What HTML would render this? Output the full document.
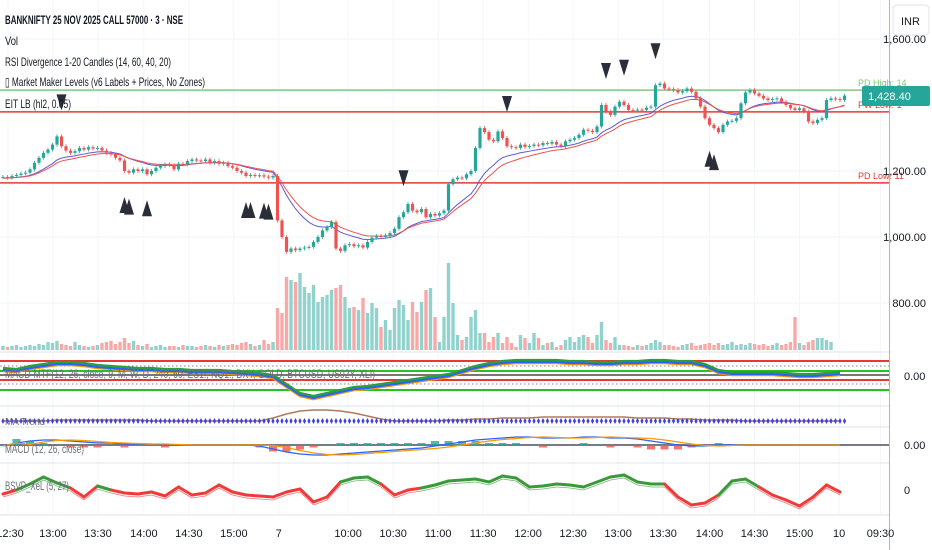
<!DOCTYPE html>
<html><head><meta charset="utf-8"><style>
html,body{margin:0;padding:0;background:#fff;}
#wrap{position:relative;width:932px;height:550px;overflow:hidden;font-family:"Liberation Sans",sans-serif;}
svg{position:absolute;left:0;top:0;}
</style></head><body>
<div id="wrap">
<svg id="chart" width="932" height="550"></svg>
</div>
<script>
// ---- data ----
const closes=[1182,1180,1185,1188,1192,1195,1205,1225,1240,1255,1265,1280,1305,1275,1262,1255,1260,1270,1265,1272,1268,1270,1262,1255,1250,1240,1232,1200,1195,1205,1200,1205,1190,1200,1210,1215,1220,1218,1205,1222,1220,1230,1235,1232,1230,1235,1225,1230,1222,1225,1215,1210,1200,1195,1185,1188,1185,1187,1183,1180,1185,
1050,1000,955,965,960,965,968,970,985,1000,1020,1030,1045,965,958,975,978,972,975,968,985,998,1003,1000,1005,1012,1025,1060,1075,1100,1080,1075,1085,1060,1070,1065,1072,1080,1160,1175,1180,1178,1190,1200,1270,1330,1318,1295,1290,1320,1300,1275,1272,1270,1280,1273,1276,1280,1278,1285,1283,1288,1280,1275,1290,1295,1300,1310,1325,1322,1318,1335,1400,1380,1370,1395,1410,1400,1385,1383,1386,1385,1392,1395,1460,1465,1450,1448,1445,1438,1442,1450,1440,1420,1395,1360,1340,1330,1318,1340,1350,1352,1360,1405,1438,1445,1435,1428,1420,1415,1418,1420,1410,1400,1390,1385,1390,1380,1350,1345,1355,1360,1415,1420,1418,1415,1428.4];
const volumes=[4,3,4,5,3,4,5,4,6,5,8,7,9,6,5,4,8,5,4,3,4,5,7,8,9,6,8,12,7,9,5,4,6,3,4,5,3,4,4,3,5,4,4,3,4,5,4,3,5,4,5,6,5,7,8,6,4,5,10,6,8,
42,37,73,70,68,77,63,57,65,48,53,55,60,62,65,53,42,43,40,52,37,47,42,23,30,20,42,50,45,30,48,38,48,60,62,33,8,33,87,47,15,10,13,33,40,17,17,8,13,17,7,13,7,3,15,12,7,17,12,5,7,8,3,5,10,13,8,13,15,13,7,15,28,10,7,13,5,5,4,3,5,4,5,7,10,8,5,5,4,3,5,6,7,4,5,6,7,5,7,5,6,8,5,6,5,7,6,5,6,4,5,7,5,6,8,33,7,5,8,10,12,12,10,8];
const priceTicks=[1600,1200,1000,800];
const timeLabels=["12:30","13:00","13:30","14:00","14:30","15:00","7","10:00","10:30","11:00","11:30","12:00","12:30","13:00","13:30","14:00","14:30","15:00","10","09:30"];
const timeIndex=[1.1,11.1,21.1,31.3,41.3,51.3,61.3,76.7,86.7,96.7,106.7,116.7,126.7,136.7,146.7,157,167,177,185.8,195];
const levels=[1445,1379,1164];
const levelNames=["PD High: 14","PW Low: 1","PD Low: 11"];
const sellIdx=[13,89,112,134,138,145];
const buyIdx=[27,28,32,54,55,58,59,157,158];
// sub-pane series (index every 3 candles)
const bsvp=[-5,-1,5,12,6,1,-8,3,-1,-4,-5,-3,-7,2,-6,-4,4,-3,-6,-7,-8,-3,0,-13,-8,7,11,12,5,-6,-1,1,4,8,9,10,7,13,11,2,3,5,4,2,7,12,14,7,5,5,-8,-16,-14,-6,8,10,2,-6,-11,-17,-8,4,-3];
const mmLine=[6,5,8,10,12,12,11,9,8,7,6,6,5,5,4,4,4,3,2,1,-1,-10,-19,-22,-19,-16,-13,-12,-10,-8,-6,-4,-2,0,4,8,11,13,14,14,14,14,13,13,12,12,13,13,14,14,13,13,10,4,2,2,2,2,1,0,0,1,2];
const macdLine=[-1,2,4,5,5,4,3,2,2,1,1,1,0,0,0,0,0,0,0,-1,-4,-7,-9,-10,-10,-9,-8,-7,-6,-5,-4,-3,-1,1,3,5,6,7,8,8,7,7,7,8,8,7,7,6,4,2,0,-1,-1,0,0,0,0,0,0,0,0,0,0];
const trendLine=[0,0,0,0,1,1,1,1,1,1,1,0,0,0,0,0,0,0,0,0,3,7,10,11,11,10,8,5,2,0,0,0,0,1,1,2,2,3,3,3,4,4,4,4,4,4,4,3,3,3,2,2,1,1,1,0,0,0,0,0,0,0,0];
// ---- scales ----
const SW=4.5, X0=3;
function xC(i){return X0+SW*i;}
function yP(p){return 171-(p-1200)*66/200;}
function yV(v){return 350-v;}
const svg=document.getElementById('chart');
const NS='http://www.w3.org/2000/svg';
function mk(tag,at,parent){const e=document.createElementNS(NS,tag);for(const k in at)e.setAttribute(k,at[k]);(parent||svg).appendChild(e);return e;}
function txt(s,x,y,at,name){const t=mk('text',Object.assign({x:x,y:y,'font-size':12,fill:'#131722','font-family':'"Liberation Sans",sans-serif'},at));t.textContent=s;return t;}
function ltxt(s,x,y,w,at,name){return txt(s,x,y,Object.assign({textLength:w,lengthAdjust:'spacingAndGlyphs'},at),name);}
// grid
const grid=mk('g',{});


priceTicks.forEach(p=>{const l=mk('line',{x1:0,x2:889,y1:yP(p),y2:yP(p),stroke:'#f0f3fa'},grid);});
timeIndex.forEach(i=>{const l=mk('line',{x1:xC(i),x2:xC(i),y1:0,y2:515,stroke:'#f4f6fb'},grid);});
// pane separators
[352,406,427,463,515].forEach(y=>{const l=mk('line',{x1:0,x2:889,y1:y,y2:y,stroke:'#e0e3eb','stroke-width':1});});
mk('line',{x1:889.5,x2:889.5,y1:0,y2:550,stroke:'#b2b5be'});
// levels
const lvColors=['#81c784','#e53935','#e53935'];
levels.forEach((p,k)=>{const l=mk('line',{x1:0,x2:889,y1:yP(p),y2:yP(p),stroke:lvColors[k],'stroke-width':1.5});
 txt(levelNames[k],858,yP(p)-4,{'font-size':9,fill:lvColors[k]},'level-label');});
// volume
const vg=mk('g',{});


closes.forEach((c,i)=>{const o=i?closes[i-1]:c;const up=c>=o;const h=volumes[i];
 const r=mk('rect',{x:xC(i)-1.7,y:yV(h),width:3.4,height:h,fill:up?'#92d2cc':'#f7a9a7'},vg);});
// EMAs
function ema(n){const a=2/(n+1);let v=1178;return closes.map(c=>v=v+a*(c-v));}
[[ema(14),'#5b5bd6'],[ema(18),'#f05050']].forEach(([s,col])=>{const pl=mk('polyline',{points:s.map((v,i)=>xC(i)+','+yP(v)).join(' '),fill:'none',stroke:col,'stroke-width':1});});
// candles
const cg=mk('g',{});


closes.forEach((c,i)=>{const o=i?closes[i-1]:c;const up=c>=o;const col=up?'#26a69a':'#ef5350';
 const hi=Math.max(o,c)+6,lo=Math.min(o,c)-6;
 const w=mk('line',{x1:xC(i),x2:xC(i),y1:yP(hi),y2:yP(lo),stroke:col,'stroke-width':0.8},cg);
 const y1=yP(Math.max(o,c)),y2=yP(Math.min(o,c));
 const b=mk('rect',{x:xC(i)-1.6,y:y1,width:3.2,height:Math.max(1,y2-y1),fill:col},cg);});
// signals
sellIdx.forEach(i=>{const x=xC(i),y=yP(Math.max(closes[i],i?closes[i-1]:0))-26;const t=mk('polygon',{points:`${x-5},${y-16} ${x+5},${y-16} ${x},${y}`,fill:'#2a2e39'});});
buyIdx.forEach(i=>{const x=xC(i),y=yP(Math.min(closes[i],closes[i-1]))+26;const t=mk('polygon',{points:`${x-5},${y+16} ${x+5},${y+16} ${x},${y}`,fill:'#2a2e39'});});
// sub-pane helpers
const SX=13.5;
function xs(i){return X0+SX*i;}
// pane 2 levels
[[361,'#e53935',0],[366,'#888',1],[371,'#22c322',0],[375,'#777',0],[380,'#e53935',0],[384,'#888',1],[390,'#22c322',0]].forEach(([y,c,d])=>{const l=mk('line',{x1:0,x2:889,y1:y,y2:y,stroke:c,'stroke-width':d?1:2,'stroke-dasharray':d?'1.5,2.5':'none'});});
function yMM(v){return 376-v;}
[[mmLine,'#ff9800',1.2],[mmLine,'#2962ff',0],[mmLine,'#2e9e3c',-2]].forEach(([s,c,off])=>{const pl=mk('polyline',{points:s.map((v,i)=>xs(i)+','+(yMM(v)+off)).join(' '),fill:'none',stroke:c,'stroke-width':2.2});});
// pane 3 trend
function yT(v){return 421-v;}
const tl=mk('polyline',{points:trendLine.map((v,i)=>xs(i)+','+yT(v)).join(' '),fill:'none',stroke:'#b07a5a','stroke-width':1.5});


const dg=mk('g',{});


closes.forEach((c,i)=>{const x=xC(i);const d=mk('path',{d:`M${x},418 L${x+1.6},421 L${x},424 L${x-1.6},421Z`,fill:'#4040e0'},dg);});
// pane 4 MACD
function yM(v){return 445-v;}
mk('line',{x1:0,x2:889,y1:445,y2:445,stroke:'#787b86','stroke-width':2});
macdLine.forEach((v,i)=>{if(i==0)return;const h=(v-macdLine[i-1])*2;const r=mk('rect',{x:xs(i)-4,y:Math.min(445,445-h),width:8,height:Math.abs(h)+0.5,fill:h>=0?'#26a69a':'#ef5350',opacity:0.8});});
[[macdLine,'#2962ff'],[macdLine.map((v,i)=>i>1?(macdLine[i-1]+macdLine[i-2])/2:v),'#ff9800']].forEach(([s,c])=>{const pl=mk('polyline',{points:s.map((v,i)=>xs(i)+','+yM(v)).join(' '),fill:'none',stroke:c,'stroke-width':1.2});});
// pane 5 BSVP
function yB(v){return 489-v;}
bsvp.forEach((v,i)=>{if(i==0)return;const c=(v+bsvp[i-1])/2>=1?'#3a9a3a':'#f03a3a';
 const l=mk('line',{x1:xs(i-1),y1:yB(bsvp[i-1]),x2:xs(i),y2:yB(v),stroke:c,'stroke-width':3,'stroke-linecap':'round'});
 const l2=mk('line',{x1:xs(i-1),y1:yB(bsvp[i-1])+3,x2:xs(i),y2:yB(v)+3,stroke:c,'stroke-width':0.8,opacity:0.7});});
// legends
ltxt('BANKNIFTY 25 NOV 2025 CALL 57000 · 3 · NSE',5,24,178,{'font-size':12,'font-weight':'bold'},'symbol-title');
ltxt('Vol',5,45,13,{},'legend-vol');
ltxt('RSI Divergence 1-20 Candles (14, 60, 40, 20)',5,66,166,{},'legend-rsi-divergence');
ltxt('▯ Market Maker Levels (v6 Labels + Prices, No Zones)',5,86,200,{},'legend-market-maker');
ltxt('EIT  LB (hl2, 0.05)',5,108,66,{},'legend-eit');
ltxt('MACD-MTF(12, 26, close, 9, M, W, D, 240, 60, ES1!, NQ1!, DXY, GOLD, BTCUSD, US02Y, XLI)',5,378,370,{fill:'#6a6d78','font-size':12},'legend-mtf-macd');
ltxt('MA Trend',5,425,40,{fill:'#6a6d78','font-size':10},'legend-ma-trend');
ltxt('MACD (12, 26, close)',5,453,79,{fill:'#6a6d78'},'legend-macd');
ltxt('BSVP_XeL (5, 27)',5,490,64,{fill:'#6a6d78'},'legend-bsvp');
// price axis
[[1600,'1,600.00'],[1200,'1,200.00'],[1000,'1,000.00'],[800,'800.00']].forEach(([p,s])=>txt(s,926,yP(p)+4,{'text-anchor':'end','font-size':11},'price-tick'));
const pr=mk('rect',{x:862,y:86,width:68,height:20,rx:2,fill:'#26a69a'});


txt('1,428.40',868,100,{fill:'#fff','font-size':11},'last-price-text');
const inr=mk('rect',{x:893,y:5,width:36,height:30,rx:4,fill:'#fff',stroke:'#e0e3eb'});


txt('INR',901,25,{'font-size':11},'currency-label');
txt('0.00',904,380,{'font-size':11},'mtf-axis-zero');
txt('0.00',904,449,{'font-size':11},'macd-axis-zero');
txt('0',904,494,{'font-size':11},'bsvp-axis-zero');
// time axis
timeLabels.forEach((s,k)=>txt(s,Math.max(10,xC(timeIndex[k])),537,{'text-anchor':'middle','font-size':11},'time-tick'));
</script>
</body></html>
